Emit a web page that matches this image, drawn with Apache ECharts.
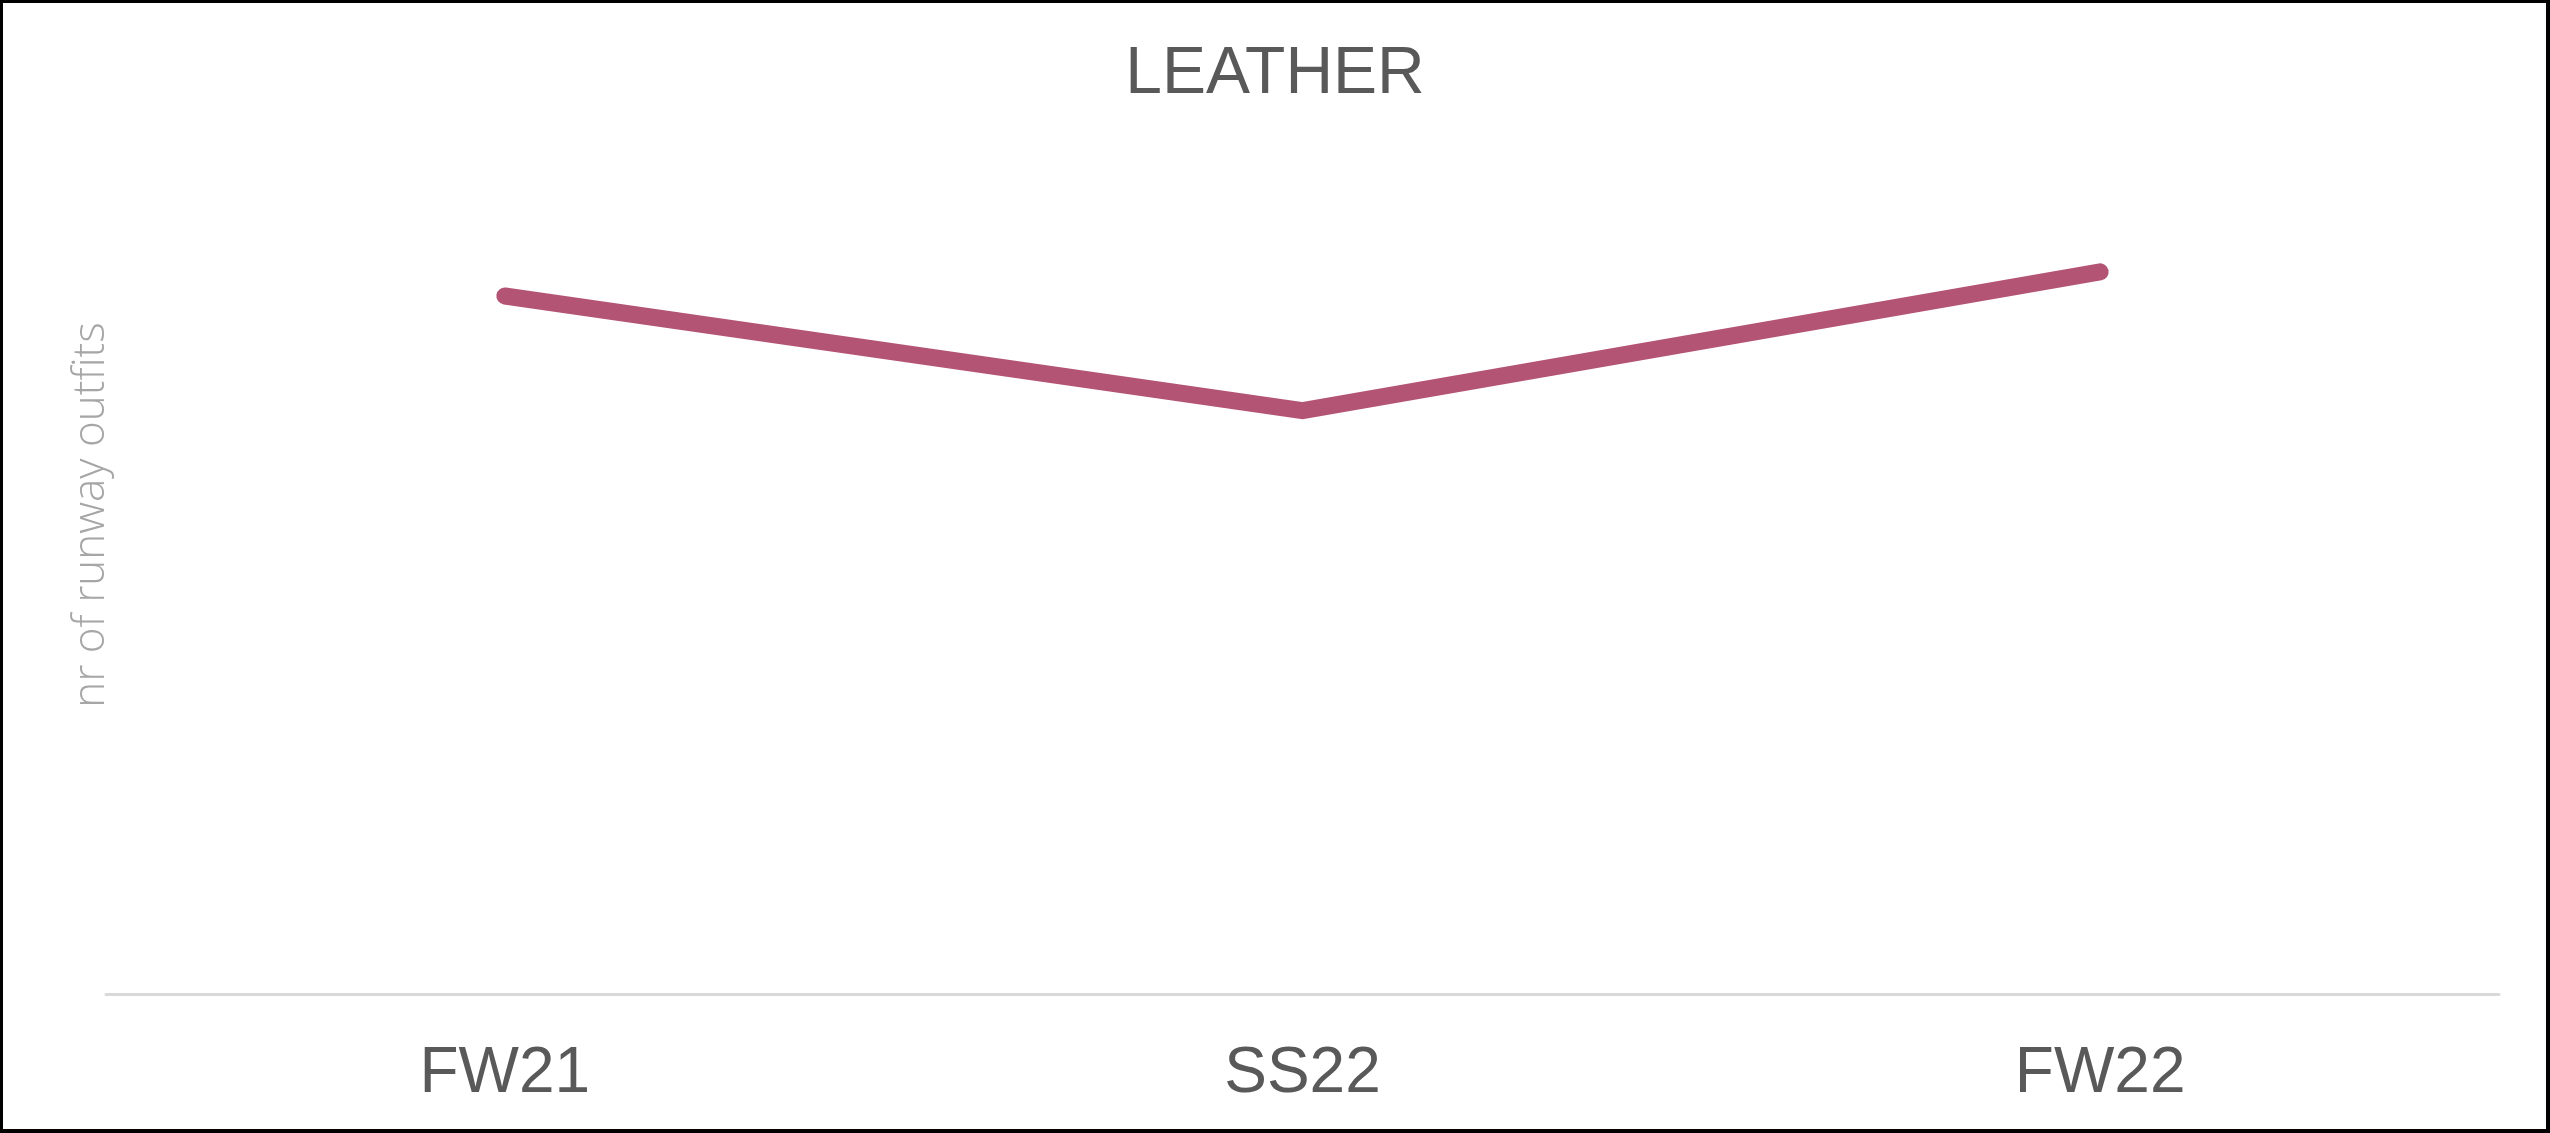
<!DOCTYPE html>
<html>
<head>
<meta charset="utf-8">
<script src="https://cdn.jsdelivr.net/npm/echarts@6/dist/echarts.min.js"></script>
<style>
  html, body { margin: 0; padding: 0; background: #fff; }
  #wrap { position: relative; width: 2550px; height: 1133px; }
  #chart { position: absolute; left: 0; top: 0; width: 2550px; height: 1133px; }
  #frame { position: absolute; left: 0; top: 0; width: 2550px; height: 1133px; box-sizing: border-box; border: 3px solid #000; border-right-width: 4px; border-bottom-width: 4px; pointer-events: none; }
</style>
</head>
<body>
<div id="wrap"><div id="chart"></div><div id="frame"></div></div>
<script>
const titleText = 'LEATHER';
const yAxisName = 'nr of runway outfits';
const categories = ['FW21', 'SS22', 'FW22'];
const leatherValues = [78, 65.2, 80.7];

const chart = echarts.init(document.getElementById('chart'), null, { renderer: 'canvas' });
chart.setOption({
  backgroundColor: '#ffffff',
  animation: false,
  title: {
    text: titleText,
    left: 'center',
    top: 37,
    textStyle: { fontFamily: 'Liberation Sans', fontSize: 66, fontWeight: 'normal', color: '#595959' }
  },
  graphic: [{
    type: 'text',
    x: 91,
    y: 515,
    rotation: Math.PI / 2,
    style: {
      text: yAxisName,
      fontFamily: 'Open Sans',
      fontSize: 44,
      fontWeight: 300,
      fill: '#a6a6a6',
      align: 'center',
      verticalAlign: 'middle'
    }
  }],
  grid: { left: 106, right: 51, top: 99, bottom: 138.5, containLabel: false },
  xAxis: {
    type: 'category',
    data: categories,
    boundaryGap: true,
    axisLine: { show: true, lineStyle: { color: '#d9d9d9', width: 3 } },
    axisTick: { show: false },
    axisLabel: { margin: 48, fontFamily: 'Liberation Sans', fontSize: 64, color: '#595959' },
    splitLine: { show: false }
  },
  yAxis: {
    type: 'value',
    min: 0,
    max: 100,
    axisLine: { show: false },
    axisTick: { show: false },
    axisLabel: { show: false },
    splitLine: { show: false }
  },
  series: [{
    type: 'line',
    data: leatherValues,
    symbol: 'none',
    smooth: false,
    lineStyle: { color: '#b45474', width: 17, cap: 'round', join: 'miter' }
  }]
});
</script>
</body>
</html>
